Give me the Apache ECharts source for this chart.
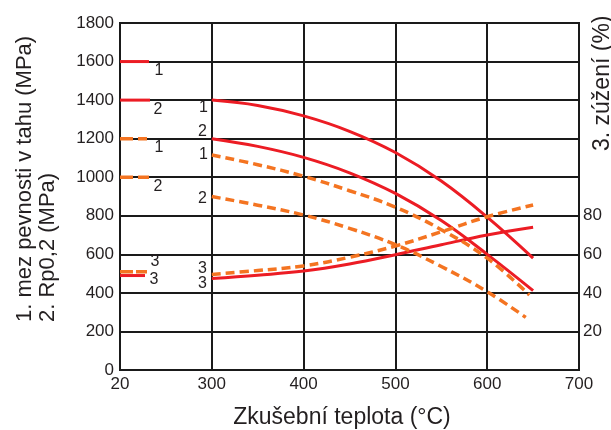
<!DOCTYPE html>
<html>
<head>
<meta charset="utf-8">
<script src="https://cdn.jsdelivr.net/npm/echarts@6/dist/echarts.min.js"></script>
<style>
  html, body { margin: 0; padding: 0; background: #fff; }
  #chart { width: 611px; height: 430px; }
</style>
</head>
<body>
<div id="chart"></div>
<script>
// Temperature axis tick labels (broken scale: 20 °C, then 300–700 °C)
const xTickLabels = ['20', '300', '400', '500', '600', '700'];
const roomTemp = 20;

// Test temperatures of the curves (°C)
const tempsA = [300, 350, 400, 450, 500, 550, 600, 650];
const tempsTensileB = [300, 350, 400, 450, 500, 550, 600, 646];
const tempsYieldB = [300, 350, 400, 450, 500, 550, 600, 642];
const tempsReductionB = [300, 350, 400, 450, 500, 550, 600, 650];

// State A (red, solid): 1 tensile strength, 2 Rp0,2 (MPa), 3 reduction of area (%)
const tensileA = [1400, 1372, 1318, 1238, 1128, 980, 793, 580];
const yieldA = [1200, 1160, 1103, 1023, 916, 775, 600, 412];
const reductionA = [47.5, 49.2, 51.3, 55, 59.8, 65, 70, 74];

// State B (orange, dashed)
const tensileB = [1115, 1065, 1005, 930, 845, 728, 580, 389];
const yieldB = [900, 855, 804, 735, 650, 537, 406, 273];
const reductionB = [49.6, 51.6, 54, 58.5, 64.3, 71.7, 79.5, 85.6];

// Values at 20 °C: [state A, state B]
const roomTensile = [1600, 1200];
const roomYield = [1400, 1000];
const roomReduction = [49, 51];

const RED = '#ec1c24';
const ORANGE = '#f47421';
const INK = '#231f20';
const FONT = '"Liberation Sans", Arial, Helvetica, sans-serif';

// Broken temperature scale: 20 °C sits at the axis origin, 300–700 °C evenly spaced
const tempToPos = t => (t <= roomTemp ? 0 : (t - 200) / 100);

function curve(temps, values, color, dashed, yAxisIndex, text, offset) {
  return {
    type: 'line',
    yAxisIndex,
    smooth: 0.4,
    symbol: 'circle',
    symbolSize: 0,
    showSymbol: true,
    silent: true,
    z: dashed ? 4 : 3,
    lineStyle: {
      color, width: dashed ? 3.5 : 3,
      type: dashed ? [9, 5] : 'solid', cap: 'butt'
    },
    itemStyle: { color },
    data: temps.map((t, i) => {
      const v = [tempToPos(t), values[i]];
      if (i !== 0) return v;
      return {
        value: v,
        label: {
          show: true, formatter: text, position: 'left', distance: 4,
          offset, color: INK, fontSize: 16, fontFamily: FONT
        }
      };
    })
  };
}

// Short marks for the 20 °C values
function roomMark(value, color, dash, yAxisIndex, text, len, dx, dy) {
  return {
    type: 'custom',
    coordinateSystem: 'cartesian2d',
    yAxisIndex,
    silent: true,
    z: 5,
    data: [[tempToPos(roomTemp), value]],
    renderItem: (params, api) => {
      const p = api.coord([api.value(0), api.value(1)]);
      return {
        type: 'group',
        children: [
          {
            type: 'line',
            shape: { x1: p[0], y1: p[1], x2: p[0] + len, y2: p[1] },
            style: { stroke: color, lineWidth: dash ? 3.5 : 3, lineDash: dash }
          },
          {
            type: 'text',
            x: p[0] + dx, y: p[1] + dy,
            style: {
              text, fill: INK, font: '16px ' + FONT,
              align: 'center', verticalAlign: 'middle'
            }
          }
        ]
      };
    }
  };
}

const chart = echarts.init(document.getElementById('chart'), null, { renderer: 'canvas' });

chart.setOption({
  animation: false,
  backgroundColor: '#fff',
  grid: {
    left: 120, right: 32, top: 23, bottom: 60,
    show: true, borderColor: '#1a1a1a', borderWidth: 2
  },
  xAxis: {
    type: 'value', min: 0, max: 5, interval: 1,
    axisLine: { show: true, lineStyle: { color: '#1a1a1a', width: 2 } },
    axisTick: { show: false },
    axisLabel: {
      color: INK, fontSize: 17, fontFamily: FONT, margin: 6,
      formatter: v => xTickLabels[v]
    },
    splitLine: { show: true, lineStyle: { color: '#1a1a1a', width: 2 } }
  },
  yAxis: [
    {
      type: 'value', min: 0, max: 1800, interval: 200,
      axisLine: { show: true, lineStyle: { color: '#1a1a1a', width: 2 } },
      axisTick: { show: false },
      axisLabel: {
        color: INK, fontSize: 17, fontFamily: FONT, margin: 6,
        formatter: v => String(v)
      },
      splitLine: { show: true, lineStyle: { color: '#1a1a1a', width: 2 } }
    },
    {
      type: 'value', min: 0, max: 180, interval: 20, position: 'right',
      axisLine: { show: true, lineStyle: { color: '#1a1a1a', width: 2 } },
      axisTick: { show: false },
      axisLabel: {
        color: INK, fontSize: 17, fontFamily: FONT, margin: 4,
        formatter: v => (v >= 20 && v <= 80 ? String(v) : '')
      },
      splitLine: { show: false }
    }
  ],
  graphic: [
    {
      type: 'text', x: 342, y: 418,
      style: {
        text: 'Zkušební teplota (°C)', fill: INK, font: '23px ' + FONT,
        align: 'center', verticalAlign: 'middle'
      }
    },
    {
      type: 'text', x: 36, y: 322, rotation: Math.PI / 2,
      style: {
        text: '1. mez pevnosti v tahu (MPa)\n2. Rp0,2 (MPa)', fill: INK,
        font: '22px ' + FONT, lineHeight: 23,
        align: 'left', verticalAlign: 'middle'
      }
    },
    {
      type: 'text', x: 603, y: 151, rotation: Math.PI / 2,
      style: {
        text: '3. zúžení (%)', fill: INK, font: '23px ' + FONT,
        align: 'left', verticalAlign: 'middle'
      }
    }
  ],
  series: [
    curve(tempsA, tensileA, RED, false, 0, '1', [0, 7]),
    curve(tempsA, yieldA, RED, false, 0, '2', [-1, -7]),
    curve(tempsA, reductionA, RED, false, 1, '3', [-1, 5]),
    curve(tempsTensileB, tensileB, ORANGE, true, 0, '1', [0, 0]),
    curve(tempsYieldB, yieldB, ORANGE, true, 0, '2', [-1, 2]),
    curve(tempsReductionB, reductionB, ORANGE, true, 1, '3', [-1, -6]),
    roomMark(roomTensile[0], RED, null, 0, '1', 29, 39, 9),
    roomMark(roomYield[0], RED, null, 0, '2', 30, 38, 9),
    roomMark(roomReduction[0], RED, null, 1, '3', 25, 34, 4),
    roomMark(roomTensile[1], ORANGE, [13, 5], 0, '1', 27, 39, 9),
    roomMark(roomYield[1], ORANGE, [13, 5], 0, '2', 29, 38, 9),
    roomMark(roomReduction[1], ORANGE, [13, 3], 1, '3', 27, 35, -10)
  ]
});
</script>
</body>
</html>
